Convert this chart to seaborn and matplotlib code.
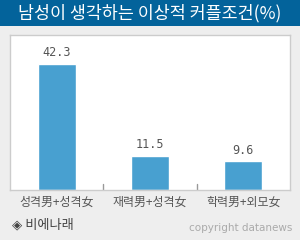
import matplotlib
matplotlib.use("Agg")
import matplotlib.pyplot as plt
import seaborn as sns
import pandas as pd

categories = ["성격男+성격女", "재력男+성격女", "학력男+외모女"]
values = [42.3, 11.5, 9.6]
title = "남성이 생각하는 이상적 커플조건(%)"
source = "◈ 비에나래"
credit = "copyright datanews"

sns.set_theme(style="white")
plt.rcParams['font.family'] = ['Noto Sans CJK KR', 'DejaVu Sans']

df = pd.DataFrame({"cat": categories, "val": values})

fig = plt.figure(figsize=(3.0, 2.4), dpi=100)
fig.patch.set_facecolor("#eeeeee")

# title bar
fig.add_artist(plt.Rectangle((0, 1 - 26/240), 1, 26/240, transform=fig.transFigure,
                             facecolor="#03639b", edgecolor="none"))
fig.text(0.5, 1 - 13/240, title, ha="center", va="center", color="white", fontsize=12.5)

ax = fig.add_axes([10/300, 1 - 190/240, 280/300, 155/240])
sns.barplot(data=df, x="cat", y="val", color="#48a0d0", width=0.41, ax=ax,
            saturation=1)
ax.set_facecolor("white")
ax.set_ylim(0, 52)
ax.set_xlim(-0.5, 2.5)
ax.set_xlabel("")
ax.set_ylabel("")
ax.set_yticks([])
ax.set_xticks([0, 1, 2])
ax.set_xticklabels(categories, color="#555555", fontsize=8.6)
ax.tick_params(axis="x", length=0, pad=4)
for s in ax.spines.values():
    s.set_color("#cccccc")
    s.set_linewidth(1)
for b in [0.5, 1.5]:
    ax.plot([b, b], [0, 2.0], color="#999999", lw=1)
for i, v in enumerate(values):
    ax.text(i, v + 1.5, f"{v}", ha="center", va="bottom", color="#555555",
            fontsize=8.5, family="DejaVu Sans Mono")

fig.text(12/300, 1 - 225/240, source, ha="left", va="center", color="#444444", fontsize=9.5)
fig.text(292/300, 1 - 228/240, credit, ha="right", va="center", color="#aaaaaa",
         fontsize=7.5, family="DejaVu Sans")

fig.savefig("out.png", dpi=100, facecolor=fig.get_facecolor())
